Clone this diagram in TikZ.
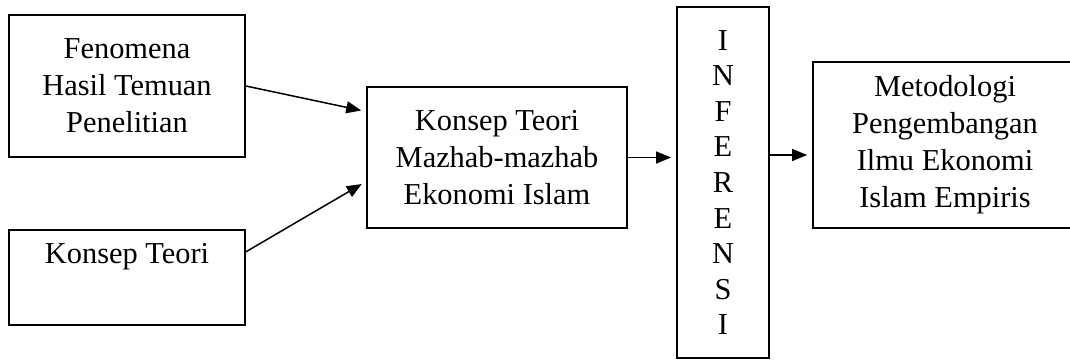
\documentclass[tikz,border=0pt]{standalone}
\usepackage{fontspec}
\setmainfont{Liberation Serif}
\usetikzlibrary{arrows.meta,positioning}

\begin{document}
\begin{tikzpicture}[x=0.5pt, y=-0.5pt, align=center, node distance=35.5pt]
    \tikzset{
        n/.style        =   { rectangle
                            , text centered
                            , draw=black
                            , line width=0.9pt
                            , inner sep=0pt
                            , font=\fontsize{15.2pt}{18.5pt}\selectfont
        }
        , arrow/.style  =   { line width=0.75pt
                            , -{Triangle[length=7.5pt,width=6pt]}
                            , shorten >= 2.5pt
        }
    }
    \useasboundingbox (0,0) rectangle (1070,360);

    \node(1)[n, minimum width=118pt, minimum height=71pt] at (127,86)
        {Fenomena\\Hasil Temuan\\Penelitian};
    \node(2)[n, minimum width=118pt, minimum height=47.5pt, below=of 1]
        {Konsep Teori\\ \strut};
    \node(3)[n, minimum width=130pt, minimum height=70.5pt] at (497,157.5)
        {Konsep Teori\\Mazhab-mazhab\\Ekonomi Islam};
    \node(4)[n, minimum width=46pt, minimum height=175.5pt, font=\fontsize{15.2pt}{17.8pt}\selectfont] at (723,182.5)
        {I\\N\\F\\E\\R\\E\\N\\S\\I};
    \node(5)[n, minimum width=132pt, minimum height=83pt] at (945,145)
        {Metodologi\\Pengembangan\\Ilmu Ekonomi\\Islam Empiris};

    \coordinate(p) at ([yshift=-5pt]5.west);

    \draw[arrow] (1.east) -- ([yshift=23pt]3.west);
    \draw[arrow] ([yshift=12.75pt]2.east) -- ([yshift=-12pt]3.west);
    \draw[arrow] (3.east) -- (3.east -| 4.west);
    \draw[arrow] (p -| 4.east) -- (p);
\end{tikzpicture}
\end{document}
